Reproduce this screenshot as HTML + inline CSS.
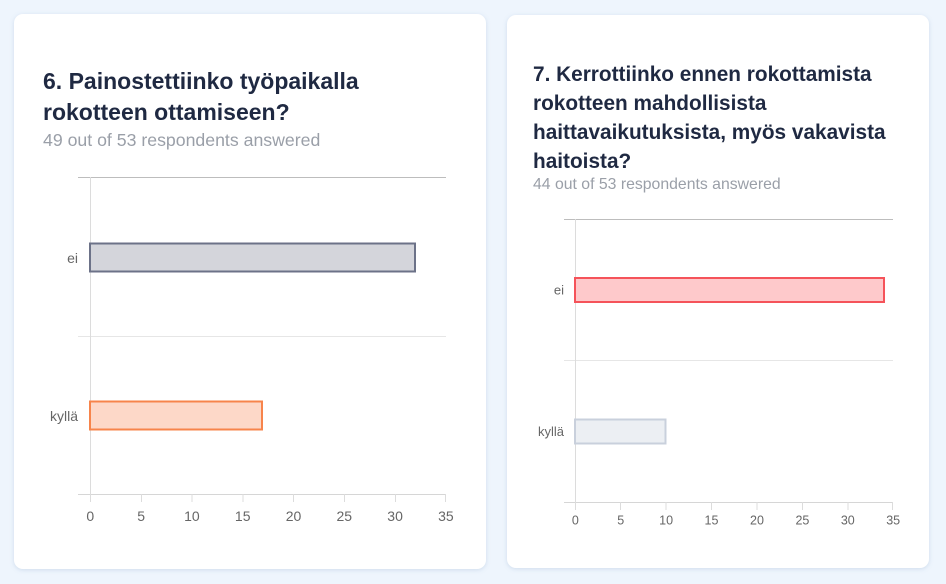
<!DOCTYPE html>
<html><head><meta charset="utf-8"><style>
html,body{margin:0;padding:0;width:946px;height:584px;overflow:hidden;background:#eef5fd;}
.card{position:absolute;background:#fff;border-radius:9px;box-shadow:0 1px 4px rgba(150,175,205,0.35);}
.t{position:absolute;font-family:"Liberation Sans",sans-serif;font-weight:bold;color:#1f2942;white-space:nowrap;}
.s{position:absolute;font-family:"Liberation Sans",sans-serif;color:#9a9fa8;white-space:nowrap;}
svg{position:absolute;left:0;top:0;}
</style></head><body>
<div class="card" style="left:14px;top:14px;width:472px;height:555px;"></div>
<div class="card" style="left:507px;top:15px;width:422px;height:553px;"></div>

<div class="t" style="left:43px;top:66px;font-size:23px;line-height:31px;">6. Painostettiinko työpaikalla<br>rokotteen ottamiseen?</div>
<div class="s" style="left:43px;top:129px;font-size:17.7px;line-height:22px;">49 out of 53 respondents answered</div>

<div class="t" style="left:533px;top:60px;font-size:20.8px;line-height:29px;">7. Kerrottiinko ennen rokottamista<br>rokotteen mahdollisista<br>haittavaikutuksista, myös vakavista<br>haitoista?</div>
<div class="s" style="left:533px;top:175px;font-size:15.8px;line-height:20px;">44 out of 53 respondents answered</div>

<svg width="946" height="584" xmlns="http://www.w3.org/2000/svg" font-family="Liberation Sans, sans-serif">
  <!-- Left chart -->
  <g shape-rendering="crispEdges">
    <line x1="78" y1="177.5" x2="446" y2="177.5" stroke="#bdbdbd" stroke-width="1"/>
    <line x1="78" y1="336.5" x2="446" y2="336.5" stroke="#e6e6e6" stroke-width="1"/>
    <line x1="78" y1="494.5" x2="446" y2="494.5" stroke="#d6d6d6" stroke-width="1"/>
    <line x1="90.5" y1="177" x2="90.5" y2="502" stroke="#dcdcdc" stroke-width="1"/>
    <line x1="141.3" y1="494" x2="141.3" y2="502" stroke="#dcdcdc"/>
    <line x1="192.1" y1="494" x2="192.1" y2="502" stroke="#dcdcdc"/>
    <line x1="242.9" y1="494" x2="242.9" y2="502" stroke="#dcdcdc"/>
    <line x1="293.7" y1="494" x2="293.7" y2="502" stroke="#dcdcdc"/>
    <line x1="344.5" y1="494" x2="344.5" y2="502" stroke="#dcdcdc"/>
    <line x1="395.3" y1="494" x2="395.3" y2="502" stroke="#dcdcdc"/>
    <line x1="445.5" y1="494" x2="445.5" y2="502" stroke="#dcdcdc"/>
  </g>
  <rect x="90" y="243.5" width="325" height="28" fill="#d4d5db" stroke="#6c7288" stroke-width="2"/>
  <rect x="90" y="401.5" width="172" height="28" fill="#fdd8c8" stroke="#f7844b" stroke-width="2"/>
  <g font-size="14" fill="#666" text-anchor="middle">
    <text x="90.3" y="521">0</text>
    <text x="141.1" y="521">5</text>
    <text x="191.9" y="521">10</text>
    <text x="242.7" y="521">15</text>
    <text x="293.5" y="521">20</text>
    <text x="344.3" y="521">25</text>
    <text x="395.1" y="521">30</text>
    <text x="445.9" y="521">35</text>
  </g>
  <g font-size="14" fill="#666" text-anchor="end">
    <text x="78" y="263">ei</text>
    <text x="78" y="421">kyllä</text>
  </g>

  <!-- Right chart -->
  <g shape-rendering="crispEdges">
    <line x1="564" y1="219.5" x2="893" y2="219.5" stroke="#bdbdbd" stroke-width="1"/>
    <line x1="564" y1="360.5" x2="893" y2="360.5" stroke="#e6e6e6" stroke-width="1"/>
    <line x1="564" y1="502.5" x2="893" y2="502.5" stroke="#d6d6d6" stroke-width="1"/>
    <line x1="575.5" y1="219" x2="575.5" y2="510" stroke="#dcdcdc" stroke-width="1"/>
    <line x1="620.7" y1="502" x2="620.7" y2="510" stroke="#dcdcdc"/>
    <line x1="666.1" y1="502" x2="666.1" y2="510" stroke="#dcdcdc"/>
    <line x1="711.5" y1="502" x2="711.5" y2="510" stroke="#dcdcdc"/>
    <line x1="757" y1="502" x2="757" y2="510" stroke="#dcdcdc"/>
    <line x1="802.4" y1="502" x2="802.4" y2="510" stroke="#dcdcdc"/>
    <line x1="847.8" y1="502" x2="847.8" y2="510" stroke="#dcdcdc"/>
    <line x1="892.5" y1="502" x2="892.5" y2="510" stroke="#dcdcdc"/>
  </g>
  <rect x="575" y="278" width="309" height="24" fill="#fec9cb" stroke="#f5535a" stroke-width="2"/>
  <rect x="575" y="419.5" width="90.5" height="24" fill="#eceff3" stroke="#c9d0dc" stroke-width="2"/>
  <g font-size="12.5" fill="#666" text-anchor="middle">
    <text x="575.3" y="524.5">0</text>
    <text x="620.7" y="524.5">5</text>
    <text x="666.1" y="524.5">10</text>
    <text x="711.5" y="524.5">15</text>
    <text x="757" y="524.5">20</text>
    <text x="802.4" y="524.5">25</text>
    <text x="847.8" y="524.5">30</text>
    <text x="893.2" y="524.5">35</text>
  </g>
  <g font-size="13" fill="#666" text-anchor="end">
    <text x="564" y="294.5">ei</text>
    <text x="564" y="436">kyllä</text>
  </g>
</svg>
</body></html>
